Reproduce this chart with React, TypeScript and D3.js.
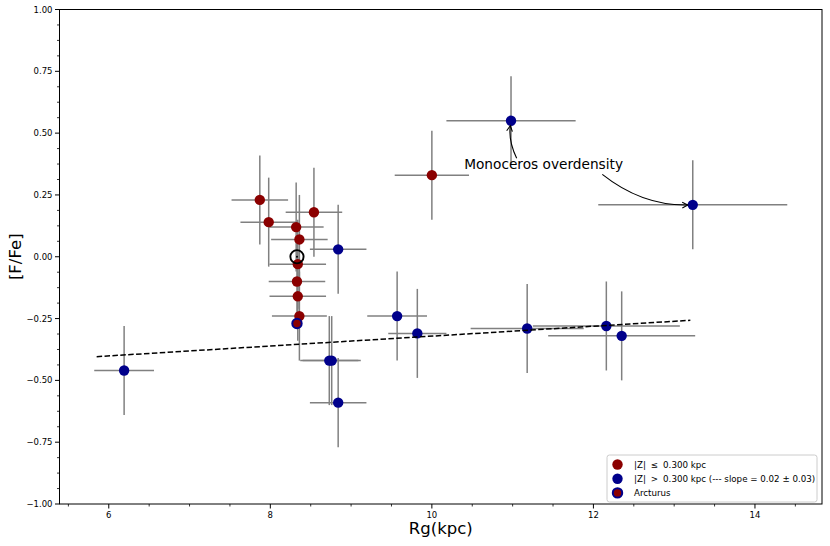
import * as d3 from "d3";

const W = 830;
const H = 546;
const FONT = "DejaVu Sans";

// axis limits and ticks
const xDomain: [number, number] = [5.39, 14.83];
const yDomain: [number, number] = [-1, 1];
const xTicks = [6, 8, 10, 12, 14];
const yTicks = [-1, -0.75, -0.5, -0.25, 0, 0.25, 0.5, 0.75, 1];

// |Z| <= 0.300 kpc
const lowRg = [7.87, 7.98, 8.32, 8.54, 8.36, 8.34, 8.33, 8.34, 8.36, 10.0];
const lowFFe = [0.23, 0.14, 0.12, 0.18, 0.07, -0.03, -0.1, -0.16, -0.24, 0.33];
const lowRgErr = [0.35, 0.35, 0.34, 0.35, 0.35, 0.35, 0.35, 0.35, 0.34, 0.46];
const lowFFeErr = [0.18, 0.18, 0.18, 0.18, 0.18, 0.18, 0.18, 0.18, 0.18, 0.18];

// |Z| > 0.300 kpc
const highRg = [6.19, 8.84, 8.73, 8.76, 8.84, 9.57, 9.82, 10.98, 11.18, 12.16, 12.35, 13.23];
const highFFe = [-0.46, 0.03, -0.42, -0.42, -0.59, -0.24, -0.31, 0.55, -0.29, -0.28, -0.32, 0.21];
const highRgErr = [0.37, 0.35, 0.36, 0.36, 0.35, 0.37, 0.36, 0.8, 0.7, 0.91, 0.91, 1.17];
const highFFeErr = [0.18, 0.18, 0.18, 0.18, 0.18, 0.18, 0.18, 0.18, 0.18, 0.18, 0.18, 0.18];

const arcturus = { rg: 8.33, ffe: -0.27 };
const sun = { rg: 8.33, ffe: 0.0 };

// linear fit of the |Z| > 0.3 sample
const fitSlope = 0.02;
const fitIntercept = -0.521;
const fitRange = [5.85, 13.2];

// annotation (data coords)
const annotText = "Monoceros overdensity";
const annotPos = { rg: 10.4, ffe: 0.355 };
const annotArrows = [
  { from: [11.05, 0.398], target: 7, rad: -0.15 },
  { from: [12.11, 0.333], target: 11, rad: 0.18 },
];

const RED = "#8b0000";
const BLUE = "#00008b";
const ERR = "#808080";

export default function App() {
  const left = 59.5;
  const right = 822;
  const top = 9.5;
  const bottom = 504;

  const x = d3.scaleLinear().domain(xDomain).range([left, right]);
  const y = d3.scaleLinear().domain(yDomain).range([bottom, top]);

  const xMinor = d3.range(5.5, 14.81, 0.5).filter((v) => !xTicks.includes(v));
  const yMinor = d3.range(-1, 1.0001, 0.0625).filter((v) => Math.abs((v * 4) % 1) > 1e-6);

  const errBars = (rg: number[], ffe: number[], ex: number[], ey: number[], key: string) =>
    rg.map((r, i) => (
      <g key={key + i} stroke={ERR} strokeWidth={1.5}>
        <line x1={x(r - ex[i])} x2={x(r + ex[i])} y1={y(ffe[i])} y2={y(ffe[i])} />
        <line x1={x(r)} x2={x(r)} y1={y(ffe[i] - ey[i])} y2={y(ffe[i] + ey[i])} />
      </g>
    ));

  const dots = (rg: number[], ffe: number[], color: string, key: string) =>
    rg.map((r, i) => <circle key={key + i} cx={x(r)} cy={y(ffe[i])} r={5.2} fill={color} />);

  const fitLine = d3.line<number>()
    .x((d) => x(d))
    .y((d) => y(fitSlope * d + fitIntercept))(fitRange);

  const arrows = annotArrows.map((a, i) => {
    const x0 = x(a.from[0]);
    const y0 = y(a.from[1]);
    const px = x(highRg[a.target]);
    const py = y(highFFe[a.target]);
    const dx = px - x0;
    const dy = py - y0;
    const cx = (x0 + px) / 2 - a.rad * dy;
    const cy = (y0 + py) / 2 + a.rad * dx;
    const ex = px - cx;
    const ey = py - cy;
    const len = Math.hypot(ex, ey);
    const ux = ex / len;
    const uy = ey / len;
    const tx = px - 5 * ux;
    const ty = py - 5 * uy;
    const p = d3.path();
    p.moveTo(x0, y0);
    p.quadraticCurveTo(cx, cy, tx, ty);
    const hl = 5.5;
    const hw = 2.9;
    const h = d3.path();
    h.moveTo(tx - hl * ux - hw * uy, ty - hl * uy + hw * ux);
    h.lineTo(tx, ty);
    h.lineTo(tx - hl * ux + hw * uy, ty - hl * uy - hw * ux);
    return (
      <g key={"arr" + i} fill="none" stroke="#000" strokeWidth={1.1}>
        <path d={p.toString()} />
        <path d={h.toString()} />
      </g>
    );
  });

  const legendX = 607;
  const legendY = 455;
  const rowH = 14.2;
  const legendFs = 8.7;

  return (
    <div style={{ position: "absolute", left: 0, top: 0 }}>
      <svg width={W} height={H} viewBox={`0 0 ${W} ${H}`} style={{ display: "block", background: "#fff" }} fontFamily={FONT}>
        <rect width={W} height={H} fill="#fff" />

        {errBars(lowRg, lowFFe, lowRgErr, lowFFeErr, "le")}
        {dots(lowRg, lowFFe, RED, "ld")}
        {errBars(highRg, highFFe, highRgErr, highFFeErr, "he")}
        {dots(highRg, highFFe, BLUE, "hd")}

        <path d={fitLine ?? ""} fill="none" stroke="#000" strokeWidth={1.5} strokeDasharray="5.5,2.4" />

        <circle cx={x(arcturus.rg)} cy={y(arcturus.ffe)} r={4.7} fill={RED} stroke={BLUE} strokeWidth={2} />
        <circle cx={x(sun.rg)} cy={y(sun.ffe)} r={6.6} fill="none" stroke="#000" strokeWidth={1.9} />
        <circle cx={x(sun.rg)} cy={y(sun.ffe)} r={1} fill="#000" />

        {arrows}
        <text x={x(annotPos.rg)} y={y(annotPos.ffe)} fontSize={13.7} fill="#000">
          {annotText}
        </text>

        {/* axes frame */}
        <rect x={left} y={top} width={right - left} height={bottom - top} fill="none" stroke="#000" strokeWidth={1} />

        {/* x ticks */}
        {xTicks.map((t) => (
          <g key={"xt" + t}>
            <line x1={x(t)} x2={x(t)} y1={bottom} y2={bottom + 4.5} stroke="#000" strokeWidth={1} />
            <text x={x(t)} y={bottom + 13.5} fontSize={8.5} textAnchor="middle">
              {t}
            </text>
          </g>
        ))}
        {xMinor.map((t) => (
          <line key={"xm" + t} x1={x(t)} x2={x(t)} y1={bottom} y2={bottom + 2.5} stroke="#000" strokeWidth={0.8} />
        ))}

        {/* y ticks */}
        {yTicks.map((t) => (
          <g key={"yt" + t}>
            <line x1={left} x2={left - 4.5} y1={y(t)} y2={y(t)} stroke="#000" strokeWidth={1} />
            <text x={left - 7} y={y(t) + 3} fontSize={8.5} textAnchor="end">
              {t < 0 ? "\u2212" + Math.abs(t).toFixed(2) : t.toFixed(2)}
            </text>
          </g>
        ))}
        {yMinor.map((t) => (
          <line key={"ym" + t} x1={left} x2={left - 2.5} y1={y(t)} y2={y(t)} stroke="#000" strokeWidth={0.8} />
        ))}

        {/* axis labels */}
        <text x={(left + right) / 2} y={534} fontSize={16.5} textAnchor="middle">
          Rg(kpc)
        </text>
        <text transform={`translate(21,${(top + bottom) / 2}) rotate(-90)`} fontSize={16.5} textAnchor="middle">
          [F/Fe]
        </text>

        {/* legend */}
        <rect x={legendX} y={legendY} width={210} height={47} rx={2.5} fill="#fff" fillOpacity={0.8} stroke="#cccccc" strokeWidth={1} />
        <circle cx={legendX + 10.5} cy={legendY + 9.5} r={5.2} fill={RED} />
        <circle cx={legendX + 10.5} cy={legendY + 9.5 + rowH} r={5.2} fill={BLUE} />
        <circle cx={legendX + 10.5} cy={legendY + 9.5 + 2 * rowH} r={4.7} fill={RED} stroke={BLUE} strokeWidth={2} />
        <g fontSize={legendFs}>
          <text x={legendX + 27} y={legendY + 12.5}>
            |Z|<tspan dx={5}>≤</tspan>
            <tspan dx={5}>0.300 kpc</tspan>
          </text>
          <text x={legendX + 27} y={legendY + 12.5 + rowH}>
            |Z|<tspan dx={5}>&gt;</tspan>
            <tspan dx={5}>0.300 kpc (--- slope = 0.02 ± 0.03)</tspan>
          </text>
          <text x={legendX + 27} y={legendY + 12.5 + 2 * rowH}>
            Arcturus
          </text>
        </g>
      </svg>
    </div>
  );
}
